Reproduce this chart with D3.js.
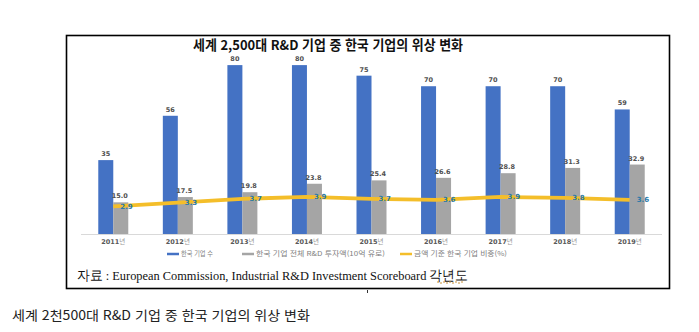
<!DOCTYPE html>
<html lang="ko">
<head>
<meta charset="utf-8">
<script src="https://cdn.jsdelivr.net/npm/d3@7/dist/d3.min.js"></script>
<style>
  html, body { margin: 0; padding: 0; background: #fff; }
  svg { display: block; }
</style>
</head>
<body>
<svg id="chart" width="699" height="332"></svg>
<script>
// Korean companies among the world's top 2,500 R&D investors
const years = ["2011", "2012", "2013", "2014", "2015", "2016", "2017", "2018", "2019"];
const companyCount = [35, 56, 80, 80, 75, 70, 70, 70, 59];          // 한국 기업 수
const investment = [15.0, 17.5, 19.8, 23.8, 25.4, 26.6, 28.8, 31.3, 32.9]; // 10억 유로
const sharePct = [2.9, 3.3, 3.7, 3.9, 3.7, 3.6, 3.9, 3.8, 3.6];     // 금액 기준 비중(%)
const legendLabels = ["한국 기업 수", "한국 기업 전체 R&D 투자액(10억 유로)", "금액 기준 한국 기업 비중(%)"];
const titleText = "세계 2,500대 R&D 기업 중 한국 기업의 위상 변화";
const sourceText = "자료 : European Commission, Industrial R&D Investment Scoreboard 각년도";
const captionText = "세계 2천500대 R&D 기업 중 한국 기업의 위상 변화";

const colors = { count: "#4472C4", invest: "#A5A5A5", share: "#F4BE2A" };
const sans = "'Noto Sans CJK KR', 'Noto Sans', sans-serif";

const svg = d3.select("#chart");

// outer frame
svg.append("rect")
  .attr("x", 66.5).attr("y", 35.5).attr("width", 603).attr("height", 253)
  .attr("fill", "none").attr("stroke", "#000").attr("stroke-width", 1.6);
svg.append("line")
  .attr("x1", 367.5).attr("x2", 367.5).attr("y1", 290).attr("y2", 293)
  .attr("stroke", "#333").attr("stroke-width", 1);

// title
svg.append("text")
  .attr("x", 193).attr("y", 50)
  .attr("textLength", 270).attr("lengthAdjust", "spacingAndGlyphs")
  .attr("font-family", sans).attr("font-weight", 700).attr("font-size", 13.5)
  .attr("fill", "#111").text(titleText);

// scales
const plotLeft = 81, plotRight = 662, plotTop = 44, plotBottom = 234;
const x = d3.scaleBand().domain(years).range([plotLeft, plotRight]).padding(0);
const step = x.step();
const barW = 15;
const xs = d3.scaleBand().domain(["count", "invest"]).range([0, step])
  .paddingInner(0).paddingOuter((step / barW - 2) / 2);
const y = d3.scaleLinear().domain([0, 90]).range([plotBottom, plotTop]);
const y2 = d3.scaleLinear().domain([0, 20]).range([plotBottom, plotTop]);
const cx = d => x(d) + step / 2;

// baseline
svg.append("line")
  .attr("x1", plotLeft).attr("x2", plotRight)
  .attr("y1", plotBottom + 0.5).attr("y2", plotBottom + 0.5)
  .attr("stroke", "#d9d9d9").attr("stroke-width", 1);

const rows = years.map((yr, i) => ({ yr, count: companyCount[i], invest: investment[i], share: sharePct[i] }));

// bars
const g = svg.append("g");
g.selectAll("rect.count").data(rows).join("rect")
  .attr("class", "count")
  .attr("x", d => x(d.yr) + xs("count")).attr("width", xs.bandwidth())
  .attr("y", d => y(d.count)).attr("height", d => plotBottom - y(d.count))
  .attr("fill", colors.count);
g.selectAll("rect.invest").data(rows).join("rect")
  .attr("class", "invest")
  .attr("x", d => x(d.yr) + xs("invest")).attr("width", xs.bandwidth())
  .attr("y", d => y(d.invest)).attr("height", d => plotBottom - y(d.invest))
  .attr("fill", colors.invest);

// bar value labels
const labelFont = { family: "'DejaVu Sans', sans-serif", size: 6.5 };
g.selectAll("text.countLbl").data(rows).join("text")
  .attr("x", d => x(d.yr) + xs("count") + xs.bandwidth() / 2)
  .attr("y", d => y(d.count) - 4)
  .attr("text-anchor", "middle")
  .attr("font-family", labelFont.family).attr("font-size", labelFont.size).attr("font-weight", 700)
  .attr("fill", "#505050").text(d => d.count);
g.selectAll("text.investLbl").data(rows).join("text")
  .attr("x", d => x(d.yr) + xs("invest") + xs.bandwidth() / 2 - 1)
  .attr("y", d => y(d.invest) - 4)
  .attr("text-anchor", "middle")
  .attr("font-family", labelFont.family).attr("font-size", labelFont.size).attr("font-weight", 700)
  .attr("fill", "#505050").text(d => d.invest.toFixed(1));

// share line
const line = d3.line().x(d => cx(d.yr)).y(d => y2(d.share));
g.append("path").datum(rows)
  .attr("d", line).attr("fill", "none")
  .attr("stroke", colors.share).attr("stroke-width", 3.8)
  .attr("stroke-linejoin", "round");
g.selectAll("text.shareLbl").data(rows).join("text")
  .attr("x", d => cx(d.yr) + 7)
  .attr("y", d => y2(d.share) + 2.5)
  .attr("font-family", labelFont.family).attr("font-size", 7).attr("font-weight", 700)
  .attr("fill", "#2A7AA8").text(d => d.share.toFixed(1));

// x axis labels
const xl = g.selectAll("text.xLbl").data(years).join("text")
  .attr("x", d => cx(d)).attr("y", 244)
  .attr("text-anchor", "middle")
  .attr("font-family", labelFont.family).attr("font-size", 6.5)
  .attr("fill", "#595959");
xl.append("tspan").attr("font-weight", 700).text(d => d);
xl.append("tspan").attr("font-family", sans).attr("fill", "#999").text("년");

// legend
const legendItems = [
  { label: legendLabels[0], color: colors.count, x: 167, w: 32 },
  { label: legendLabels[1], color: colors.invest, x: 242, w: 129 },
  { label: legendLabels[2], color: colors.share, x: 400, w: 93 }
];
const lg = svg.append("g").selectAll("g").data(legendItems).join("g")
  .attr("transform", d => `translate(${d.x},254)`);
lg.append("line").attr("x1", 0).attr("x2", 12).attr("y1", 0).attr("y2", 0)
  .attr("stroke", d => d.color).attr("stroke-width", 2.5);
lg.append("text").attr("x", 14).attr("y", 2.4)
  .attr("textLength", d => d.w).attr("lengthAdjust", "spacingAndGlyphs")
  .attr("font-family", sans).attr("font-size", 6.8).attr("fill", "#7f7f7f")
  .text(d => d.label);

// source note
svg.append("text")
  .attr("x", 77).attr("y", 280)
  .attr("textLength", 391).attr("lengthAdjust", "spacingAndGlyphs")
  .attr("font-family", "'Liberation Serif', 'DejaVu Serif', serif").attr("font-size", 13.5)
  .attr("fill", "#111").text(sourceText);
svg.append("path")
  .attr("d", d3.range(0, 9).map(i => `M${437 + i * 3},${282 + (i % 2)}h2`).join(""))
  .attr("stroke", "#c8923a").attr("stroke-width", 1);

// caption below the figure
svg.append("text")
  .attr("x", 12).attr("y", 320)
  .attr("textLength", 298).attr("lengthAdjust", "spacingAndGlyphs")
  .attr("font-family", sans).attr("font-size", 13)
  .attr("fill", "#222").text(captionText);
</script>
</body>
</html>
